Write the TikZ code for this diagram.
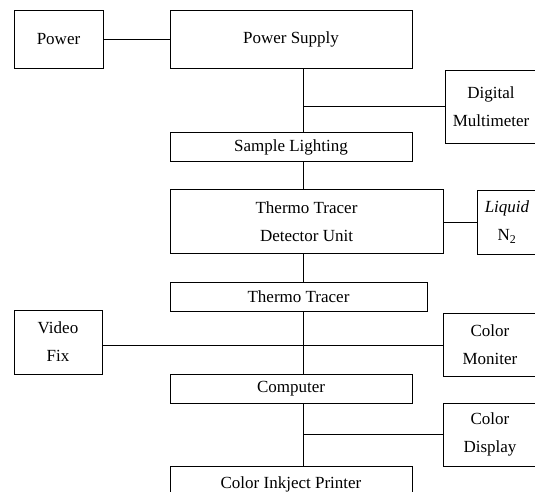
\documentclass[tikz,border=0pt]{standalone}
\usepackage{fontspec}
\setmainfont{Liberation Serif}
\tikzset{
  blk/.style={draw, line width=0.8pt, align=center, inner sep=1pt,
    font=\fontsize{17}{28}\selectfont},
  wire/.style={line width=0.8pt}
}
\begin{document}
\begin{tikzpicture}[x=1pt, y=-1pt]
    \useasboundingbox (0,0) rectangle (535,492);
    \clip (0,0) rectangle (535,492);

    % Bloques de la columna central
    \node[blk, minimum width=242pt, minimum height=58pt] (ps) at (291,39) {Power Supply};
    \node[blk, minimum width=242pt, minimum height=29pt] (sl) at (291,147) {Sample Lighting};
    \node[blk, minimum width=273pt, minimum height=64pt] (ttdu) at (306.5,221.5) {Thermo Tracer\\Detector Unit};
    \node[blk, minimum width=257pt, minimum height=29pt] (tt) at (298.5,296.5) {Thermo Tracer};
    \node[blk, minimum width=242pt, minimum height=29pt] (pc) at (291,388.5) {Computer};
    \node[blk, minimum width=242pt, minimum height=36pt] (prn) at (291,484) {Color Inkject Printer};

    % Bloques laterales
    \node[blk, minimum width=89pt, minimum height=58pt] (pwr) at (58.5,39) {Power};
    \node[blk, minimum width=92pt, minimum height=73pt] (dm) at (491,106.5) {Digital\\Multimeter};
    \node[blk, minimum width=60pt, minimum height=64pt] (ln) at (507,222) {\textit{Liquid}\\N\textsubscript{2}};
    \node[blk, minimum width=88pt, minimum height=64pt] (vf) at (58,342) {Video\\Fix};
    \node[blk, minimum width=94pt, minimum height=63pt] (cm) at (490,345) {Color\\Moniter};
    \node[blk, minimum width=94pt, minimum height=63pt] (cd) at (490,434.5) {Color\\Display};

    % Eje vertical
    \coordinate (eje) at (303,0);
    \draw[wire] (ps.south -| eje) -- (sl.north -| eje);
    \draw[wire] (sl.south -| eje) -- (ttdu.north -| eje);
    \draw[wire] (ttdu.south -| eje) -- (tt.north -| eje);
    \draw[wire] (tt.south -| eje) -- (pc.north -| eje);
    \draw[wire] (pc.south -| eje) -- (prn.north -| eje);

    % Conexiones horizontales
    \draw[wire] (pwr.east) -- (pwr.east -| ps.west);
    \draw[wire] (dm.west) -- (dm.west -| eje);
    \draw[wire] (ln.west) -- (ln.west -| ttdu.east);
    \draw[wire] (vf.east |- cm.west) -- (cm.west);
    \draw[wire] (cd.west) -- (cd.west -| eje);
\end{tikzpicture}
\end{document}
